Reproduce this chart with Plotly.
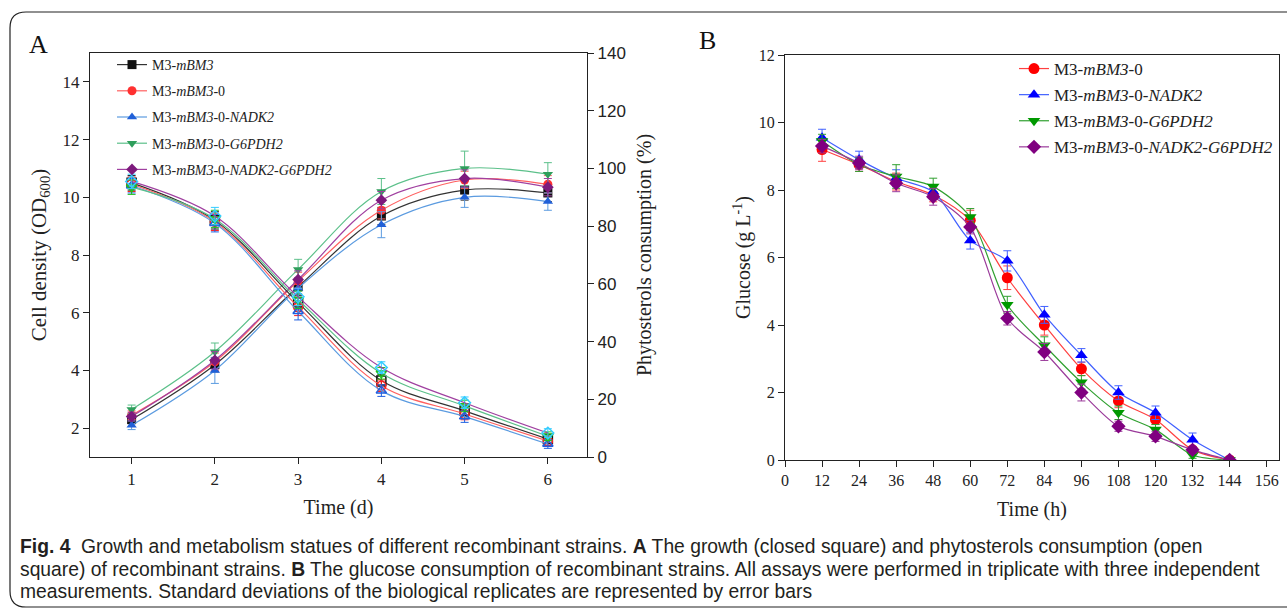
import plotly.graph_objects as go

W, H = 1287, 615

# ---- Panel A: growth (OD600) and phytosterols consumption ----
days = [1, 2, 3, 4, 5, 6]
strains_a = ["M3-<i>mBM3</i>", "M3-<i>mBM3</i>-0", "M3-<i>mBM3</i>-0-<i>NADK2</i>",
             "M3-<i>mBM3</i>-0-<i>G6PDH2</i>", "M3-<i>mBM3</i>-0-<i>NADK2-G6PDH2</i>"]

od_mbm3 = [2.3, 4.2, 6.9, 9.35, 10.25, 10.15]
od_0 = [2.45, 4.3, 7.1, 9.55, 10.6, 10.45]
od_nadk2 = [2.1, 4.0, 6.85, 9.05, 10.0, 9.85]
od_g6pdh2 = [2.65, 4.65, 7.5, 10.2, 11.0, 10.8]
od_both = [2.4, 4.35, 7.15, 9.9, 10.65, 10.35]

od_err_mbm3 = [0.15, 0.25, 0.3, 0.3, 0.35, 0.3]
od_err_0 = [0.15, 0.3, 0.3, 0.3, 0.3, 0.3]
od_err_nadk2 = [0.15, 0.45, 0.3, 0.45, 0.35, 0.3]
od_err_g6pdh2 = [0.15, 0.3, 0.35, 0.45, 0.6, 0.4]
od_err_both = [0.15, 0.3, 0.3, 0.3, 0.3, 0.3]

ps_mbm3 = [95.0, 82.0, 53.5, 26.5, 16.0, 6.2]
ps_0 = [94.5, 81.5, 52.0, 24.7, 14.9, 5.5]
ps_nadk2 = [94.0, 81.0, 50.5, 23.0, 14.0, 4.5]
ps_g6pdh2 = [93.5, 82.5, 54.5, 29.0, 17.7, 7.2]
ps_both = [95.5, 83.5, 55.5, 31.0, 18.8, 8.3]

ps_err = [2.5, 3.0, 3.0, 2.0, 2.0, 1.5]

# ---- Panel B: glucose ----
hours = [12, 24, 36, 48, 60, 72, 84, 96, 108, 120, 132, 144]
hour_ticks = [0, 12, 24, 36, 48, 60, 72, 84, 96, 108, 120, 132, 144, 156]
strains_b = strains_a[1:]

glc_0 = [9.2, 8.75, 8.25, 7.85, 7.1, 5.4, 4.0, 2.7, 1.75, 1.2, 0.3, 0.0]
glc_nadk2 = [9.55, 8.9, 8.35, 7.95, 6.5, 5.9, 4.3, 3.1, 2.0, 1.4, 0.6, 0.0]
glc_g6pdh2 = [9.45, 8.75, 8.4, 8.1, 7.2, 4.6, 3.4, 2.3, 1.4, 0.9, 0.15, 0.0]
glc_both = [9.3, 8.8, 8.2, 7.8, 6.9, 4.2, 3.2, 2.0, 1.0, 0.7, 0.3, 0.0]

glc_err_0 = [0.35, 0.2, 0.25, 0.2, 0.3, 0.35, 0.3, 0.2, 0.2, 0.15, 0.1, 0.0]
glc_err_nadk2 = [0.25, 0.25, 0.25, 0.2, 0.25, 0.3, 0.25, 0.2, 0.2, 0.2, 0.2, 0.0]
glc_err_g6pdh2 = [0.2, 0.2, 0.35, 0.25, 0.25, 0.25, 0.25, 0.2, 0.2, 0.15, 0.1, 0.0]
glc_err_both = [0.2, 0.2, 0.25, 0.25, 0.2, 0.2, 0.25, 0.25, 0.15, 0.15, 0.1, 0.0]

# styles
serif = "Liberation Serif"
mark_a = ["#111111", "#ff3030", "#2060d8", "#2e9e5b", "#7d1a7d"]
line_a = ["#333333", "#ff6060", "#5b9be0", "#5cc08a", "#a040a0"]
open_a = ["#111111", "#ff2020", "#1f5fe0", "#20c020", "#33ccff"]
sym_a = ["square", "circle", "triangle-up", "triangle-down", "diamond"]

mark_b = ["#ff0000", "#0000ff", "#009900", "#800080"]
line_b = ["#ff4040", "#4060ff", "#30a030", "#9a3a9a"]
sym_b = ["circle", "triangle-up", "triangle-down", "diamond"]

od_sets = [od_mbm3, od_0, od_nadk2, od_g6pdh2, od_both]
od_errs = [od_err_mbm3, od_err_0, od_err_nadk2, od_err_g6pdh2, od_err_both]
ps_sets = [ps_mbm3, ps_0, ps_nadk2, ps_g6pdh2, ps_both]
glc_sets = [glc_0, glc_nadk2, glc_g6pdh2, glc_both]
glc_errs = [glc_err_0, glc_err_nadk2, glc_err_g6pdh2, glc_err_both]

fig = go.Figure()

for i, name in enumerate(strains_a):
    # decreasing curves, open markers, right axis
    fig.add_trace(go.Scatter(
        x=days, y=ps_sets[i], mode="lines+markers", xaxis="x", yaxis="y2",
        line=dict(color=line_a[i], width=1.2, shape="spline", smoothing=1.0),
        marker=dict(symbol=sym_a[i] + "-open", size=9, color=open_a[i], line=dict(width=1.5)),
        error_y=dict(type="data", array=ps_err, color=open_a[i], thickness=1, width=4),
        showlegend=False, hoverinfo="skip"))

for i, name in enumerate(strains_a):
    fig.add_trace(go.Scatter(
        x=days, y=od_sets[i], mode="lines+markers", name=name, xaxis="x", yaxis="y",
        legend="legend", legendgroup="a%d" % i,
        line=dict(color=line_a[i], width=1.2, shape="spline", smoothing=1.0),
        marker=dict(symbol=sym_a[i], size=9, color=mark_a[i]),
        error_y=dict(type="data", array=od_errs[i], color=line_a[i], thickness=1, width=4)))

for i, name in enumerate(strains_b):
    fig.add_trace(go.Scatter(
        x=hours, y=glc_sets[i], mode="lines+markers", name=name, xaxis="x2", yaxis="y3",
        legend="legend2", legendgroup="b%d" % i,
        line=dict(color=line_b[i], width=1.2, shape="spline", smoothing=0.8),
        marker=dict(symbol=sym_b[i], size=11, color=mark_b[i]),
        error_y=dict(type="data", array=glc_errs[i], color=line_b[i], thickness=1, width=4)))

def px_x(p):
    return p / W

def px_y(p):
    return 1 - p / H

axis_common = dict(showline=True, linecolor="#222", linewidth=1.3, ticks="outside",
                   ticklen=6, tickwidth=1.3, tickcolor="#222", showgrid=False,
                   zeroline=False, automargin=False,
                   tickfont=dict(family=serif, size=17, color="#222"))

fig.update_layout(
    width=W, height=H, margin=dict(l=0, r=0, t=0, b=0, autoexpand=False),
    paper_bgcolor="white", plot_bgcolor="white",
    xaxis=dict(axis_common, domain=[px_x(90), px_x(587)], range=[0.5, 6.47],
               tickvals=days, mirror=True, anchor="y",
               title=dict(text="Time (d)", font=dict(family=serif, size=20, color="#222"), standoff=12)),
    yaxis=dict(axis_common, domain=[px_y(457), px_y(53)], range=[1, 15],
               tickvals=[2, 4, 6, 8, 10, 12, 14], anchor="x",
               title=dict(text="Cell density (OD<sub>600</sub>)",
                          font=dict(family=serif, size=21, color="#222"), standoff=10)),
    yaxis2=dict(axis_common, overlaying="y", side="right", anchor="x", range=[0, 140],
                tickvals=[0, 20, 40, 60, 80, 100, 120, 140],
                tickfont=dict(family="Liberation Sans", size=17, color="#222"),
                title=dict(text="Phytosterols consumption (%)",
                           font=dict(family=serif, size=20, color="#222"), standoff=12)),
    xaxis2=dict(axis_common, domain=[px_x(785), px_x(1279)], range=[0, 160],
                tickvals=hour_ticks, mirror=True, anchor="y3",
                tickfont=dict(family=serif, size=16, color="#222"),
                title=dict(text="Time (h)", font=dict(family=serif, size=20, color="#222"), standoff=13)),
    yaxis3=dict(axis_common, domain=[px_y(460), px_y(55)], range=[0, 12],
                tickvals=[0, 2, 4, 6, 8, 10, 12], mirror=True, anchor="x2",
                tickfont=dict(family=serif, size=16, color="#222"),
                title=dict(text="Glucose (g L<sup>-1</sup>)",
                           font=dict(family=serif, size=20, color="#222"), standoff=2)),
    legend=dict(x=px_x(112), y=px_y(49), xanchor="left", yanchor="top",
                bgcolor="rgba(0,0,0,0)", tracegroupgap=5,
                font=dict(family=serif, size=14, color="#222")),
    legend2=dict(x=px_x(1014), y=px_y(51), xanchor="left", yanchor="top",
                 bgcolor="rgba(0,0,0,0)", tracegroupgap=1,
                 font=dict(family=serif, size=17, color="#222")),
)

# panel letters
fig.add_annotation(text="A", x=px_x(38), y=px_y(45), xref="paper", yref="paper",
                   xanchor="center", yanchor="middle",
                   showarrow=False, font=dict(family=serif, size=26, color="#111"))
fig.add_annotation(text="B", x=px_x(707), y=px_y(40), xref="paper", yref="paper",
                   xanchor="center", yanchor="middle",
                   showarrow=False, font=dict(family=serif, size=26, color="#111"))

# caption
caption = [
    "<b>Fig. 4</b>  Growth and metabolism statues of different recombinant strains. <b>A</b> The growth (closed square) and phytosterols consumption (open",
    "square) of recombinant strains. <b>B</b> The glucose consumption of recombinant strains. All assays were performed in triplicate with three independent",
    "measurements. Standard deviations of the biological replicates are represented by error bars",
]
cap_y = [546, 569, 591]
for txt, yy in zip(caption, cap_y):
    fig.add_annotation(text=txt, x=px_x(18), y=px_y(yy), xref="paper", yref="paper",
                       xanchor="left", yanchor="middle", showarrow=False, align="left",
                       font=dict(family="Liberation Sans", size=19.3, color="#231f20"))

# rounded border around the figure
x0, x1 = px_x(10), 1.02
y0, y1 = px_y(607), px_y(12)
rx, ry = 16 / W, 16 / H
border = (f"M {x0 + rx},{y1} L {x1},{y1} L {x1},{y0} L {x0 + rx},{y0} "
          f"Q {x0},{y0} {x0},{y0 + ry} L {x0},{y1 - ry} Q {x0},{y1} {x0 + rx},{y1} Z")
fig.add_shape(type="path", path=border, xref="paper", yref="paper",
              line=dict(color="#222", width=1.2), layer="below")

fig.write_html("out.html", config={"displayModeBar": False},
               post_script="document.body.style.margin='0';")
